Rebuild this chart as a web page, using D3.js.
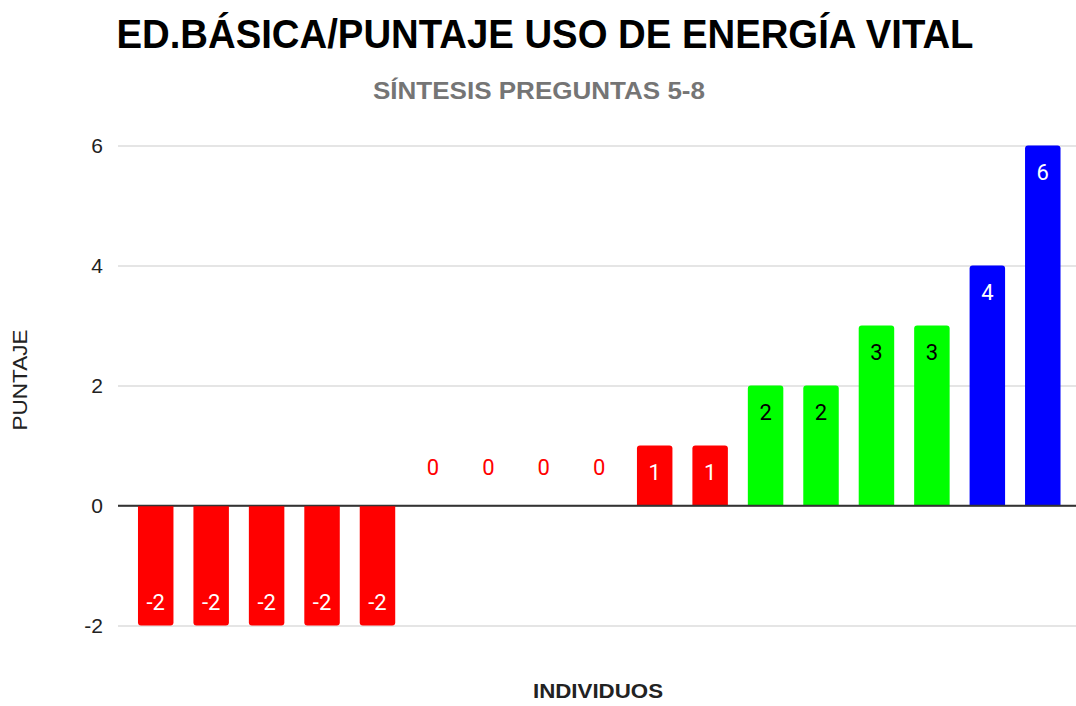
<!DOCTYPE html>
<html>
<head>
<meta charset="utf-8">
<script src="https://cdn.jsdelivr.net/npm/d3@7"></script>
<style>
  body { margin: 0; background: #fff; }
  svg { display: block; }
</style>
</head>
<body>
<svg id="chart" width="1076" height="706"></svg>
<script>
// Chart data
const individuos = d3.range(1, 18).map(String);
const puntajes = [-2, -2, -2, -2, -2, 0, 0, 0, 0, 1, 1, 2, 2, 3, 3, 4, 6];
const yTicks = [-2, 0, 2, 4, 6];
const titleText = "ED.BÁSICA/PUNTAJE USO DE ENERGÍA VITAL";
const subtitleText = "SÍNTESIS PREGUNTAS 5-8";
const xTitle = "INDIVIDUOS";
const yTitle = "PUNTAJE";

// Colour by score range
function barColor(v) {
  if (v >= 4) return "#0000ff";
  if (v >= 2) return "#00ff00";
  return "#ff0000";
}
function labelColor(v) {
  if (v === 0) return "#ff0000";
  if (v >= 2 && v < 4) return "#000000";
  return "#ffffff";
}

const svg = d3.select("#chart");
const gridLeft = 118, gridRight = 1076;

const x = d3.scaleBand()
  .domain(individuos)
  .range([128, 1070.5])
  .paddingInner(0.36)
  .paddingOuter(0.18);

const y = d3.scaleLinear()
  .domain([-2, 6])
  .range([625.5, 145.5]);

// Titles (condensed look via textLength)
svg.append("text")
  .attr("x", 545).attr("y", 47.5)
  .attr("text-anchor", "middle")
  .attr("font-family", "'Liberation Sans', Arial, sans-serif")
  .attr("font-weight", "bold")
  .attr("font-size", "41px")
  .attr("textLength", 857)
  .attr("lengthAdjust", "spacingAndGlyphs")
  .attr("fill", "#000")
  .text(titleText);

svg.append("text")
  .attr("x", 539).attr("y", 99)
  .attr("text-anchor", "middle")
  .attr("font-family", "'Liberation Sans', Arial, sans-serif")
  .attr("font-weight", "bold")
  .attr("font-size", "24px")
  .attr("textLength", 332)
  .attr("lengthAdjust", "spacingAndGlyphs")
  .attr("fill", "#757575")
  .text(subtitleText);

// Grid lines + y tick labels
const yAxis = svg.append("g")
  .attr("transform", `translate(${gridLeft},0)`)
  .call(d3.axisLeft(y)
    .tickValues(yTicks)
    .tickSize(-(gridRight - gridLeft))
    .tickPadding(15)
    .tickFormat(d => String(d)));
yAxis.select(".domain").remove();
yAxis.selectAll(".tick line")
  .attr("stroke", d => d === 0 ? "#333" : "#ccc")
  .attr("stroke-width", d => d === 0 ? 1.5 : 1.2);
yAxis.selectAll(".tick text")
  .attr("font-family", "'Liberation Sans', Arial, sans-serif")
  .attr("font-size", "21px")
  .attr("fill", "#222");

// Bars with slightly rounded outer corners
const r = 3;
function barPath(d) {
  const x0 = x(d.k), w = x.bandwidth();
  const yv = y(d.v), y0 = y(0);
  if (d.v > 0) {
    return `M${x0},${y0}V${yv + r}Q${x0},${yv} ${x0 + r},${yv}H${x0 + w - r}Q${x0 + w},${yv} ${x0 + w},${yv + r}V${y0}Z`;
  }
  return `M${x0},${y0}V${yv - r}Q${x0},${yv} ${x0 + r},${yv}H${x0 + w - r}Q${x0 + w},${yv} ${x0 + w},${yv - r}V${y0}Z`;
}

const data = individuos.map((k, i) => ({ k, v: puntajes[i] }));

svg.append("g")
  .selectAll("path")
  .data(data.filter(d => d.v !== 0))
  .join("path")
  .attr("d", barPath)
  .attr("fill", d => barColor(d.v));

// Redraw zero line on top of bars
svg.append("line")
  .attr("x1", gridLeft).attr("x2", gridRight)
  .attr("y1", y(0)).attr("y2", y(0))
  .attr("stroke", "#333")
  .attr("stroke-width", 1.5);

// Data labels
svg.append("g")
  .selectAll("text")
  .data(data)
  .join("text")
  .attr("x", d => x(d.k) + x.bandwidth() / 2)
  .attr("y", d => {
    if (d.v > 0) return y(d.v) + 34;
    if (d.v < 0) return y(d.v) - 16;
    return y(0) - 31;
  })
  .attr("text-anchor", "middle")
  .attr("font-family", "Roboto, sans-serif")
  .attr("font-size", "22px")
  .attr("fill", d => labelColor(d.v))
  .text(d => d.v);

// Axis titles
svg.append("text")
  .attr("x", 598).attr("y", 698)
  .attr("text-anchor", "middle")
  .attr("font-family", "'Liberation Sans', Arial, sans-serif")
  .attr("font-weight", "bold")
  .attr("font-size", "21px")
  .attr("textLength", 130)
  .attr("lengthAdjust", "spacingAndGlyphs")
  .attr("fill", "#222")
  .text(xTitle);

svg.append("text")
  .attr("transform", "translate(27,380) rotate(-90)")
  .attr("text-anchor", "middle")
  .attr("font-family", "'Liberation Sans', Arial, sans-serif")
  .attr("font-size", "21px")
  .attr("textLength", 101)
  .attr("lengthAdjust", "spacingAndGlyphs")
  .attr("fill", "#222")
  .text(yTitle);
</script>
</body>
</html>
